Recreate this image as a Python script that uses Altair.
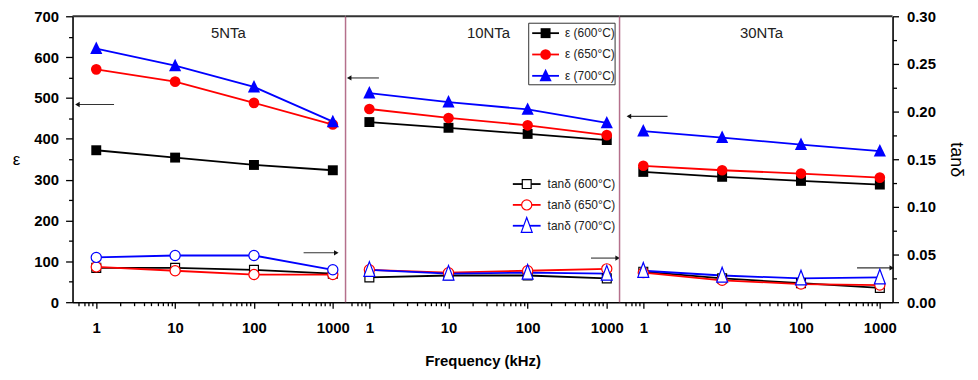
import altair as alt
import pandas as pd

# ---------------- data ----------------
freq_khz = [1, 10, 100, 1000]
panel_names = ["5NTa", "10NTa", "30NTa"]
temp_labels = ["600°C", "650°C", "700°C"]
series_colors = ["#000000", "#ff0000", "#0000ff"]

eps_5nta_600 = [372, 354, 336, 323]
eps_5nta_650 = [570, 540, 488, 435]
eps_5nta_700 = [621, 579, 527, 442]
tan_5nta_600 = [0.036, 0.036, 0.034, 0.030]
tan_5nta_650 = [0.037, 0.033, 0.029, 0.029]
tan_5nta_700 = [0.047, 0.049, 0.049, 0.034]

eps_10nta_600 = [441, 427, 412, 397]
eps_10nta_650 = [473, 451, 433, 409]
eps_10nta_700 = [512, 490, 472, 439]
tan_10nta_600 = [0.026, 0.028, 0.028, 0.025]
tan_10nta_650 = [0.034, 0.031, 0.033, 0.035]
tan_10nta_700 = [0.034, 0.030, 0.031, 0.030]

eps_30nta_600 = [319, 307, 297, 288]
eps_30nta_650 = [334, 323, 315, 305]
eps_30nta_700 = [419, 403, 386, 370]
tan_30nta_600 = [0.032, 0.025, 0.020, 0.015]
tan_30nta_650 = [0.031, 0.023, 0.019, 0.018]
tan_30nta_700 = [0.033, 0.028, 0.025, 0.026]

# annotation arrows per panel: [left arrow (to eps axis), right arrow (to tan axis)]
arrow_tip_khz = [[0.577, 1107], [0.556, 1371], [0.657, 1416]]
arrow_tail_khz = [[1.68, 426], [1.32, 631], [2.03, 514]]
arrow_eps_level = [[484, 121], [549, 108], [455, 84]]
arrow_dir = ["left", "right"]

eps_by_panel = {
    "5NTa": [eps_5nta_600, eps_5nta_650, eps_5nta_700],
    "10NTa": [eps_10nta_600, eps_10nta_650, eps_10nta_700],
    "30NTa": [eps_30nta_600, eps_30nta_650, eps_30nta_700],
}
tan_by_panel = {
    "5NTa": [tan_5nta_600, tan_5nta_650, tan_5nta_700],
    "10NTa": [tan_10nta_600, tan_10nta_650, tan_10nta_700],
    "30NTa": [tan_30nta_600, tan_30nta_650, tan_30nta_700],
}

# ---------------- styles ----------------
TRI_SOLID = "M0,-1.15L-1,0.9L1,0.9Z"
TRI_OPEN = "M0,-1.5L-1,1.2L1,1.2Z"
eps_shapes = ["square", "circle", TRI_SOLID]
eps_sizes = [100, 115, 150]
tan_shapes = {
    "5NTa": ["square", "circle", "circle"],
    "10NTa": ["square", "circle", TRI_OPEN],
    "30NTa": ["square", "circle", TRI_OPEN],
}
tan_size_of = {"square": 80, "circle": 105, TRI_OPEN: 121}

FONT = "Liberation Sans"
H = 288
WIDTHS = [275, 276, 275]
SEP_COLOR = "#b5708c"
FRAME_COLOR = "#333333"

x_scale = alt.Scale(type="log", domain=[0.5, 1450], nice=False, zero=False)
eps_scale = alt.Scale(domain=[0, 700], nice=False, zero=False)
tan_scale = alt.Scale(domain=[0, 0.30], nice=False, zero=False)

x_minor = [0.6, 0.7, 0.8, 0.9]
for dec in [1, 10, 100]:
    x_minor += [dec * k for k in range(2, 10)]
x_tick_vals = sorted(set(x_minor + freq_khz))
major_test = "indexof([1,10,100,1000], datum.value) >= 0"


def x_axis(title):
    return alt.Axis(
        values=x_tick_vals,
        labelExpr=major_test + " ? format(datum.value, 'd') : ''",
        tickSize={"condition": {"test": major_test, "value": 6}, "value": 3.5},
        labelOverlap=False,
        labelPadding=13,
        labelFontSize=15,
        title=title,
        titleFontSize=15,
        titleFontWeight="bold",
        titlePadding=18,
    )


eps_axis_left = alt.Axis(
    orient="left",
    values=list(range(0, 701, 50)),
    labelExpr="datum.value % 100 == 0 ? format(datum.value, 'd') : ''",
    tickSize={"condition": {"test": "datum.value % 100 == 0", "value": 7}, "value": 4},
    labelOverlap=False,
    labelPadding=7,
    labelFontSize=15,
    title="ε",
    titleAngle=0,
    titleAlign="right",
    titleBaseline="middle",
    titlePadding=14,
    titleFontSize=17,
    titleFontWeight="normal",
)
tan_vals = [round(0.025 * k, 3) for k in range(13)]
tan_test = "round(datum.value * 1000) % 50 == 0"
tan_axis_right = alt.Axis(
    orient="right",
    values=tan_vals,
    labelExpr=tan_test + " ? format(datum.value, '.2f') : ''",
    tickSize={"condition": {"test": tan_test, "value": 6}, "value": 4},
    labelOverlap=False,
    labelPadding=8,
    labelFontSize=15,
    title="tanδ",
    titleAngle=90,
    titlePadding=11,
    titleFontSize=18,
    titleFontWeight="normal",
)


def one_row():
    return pd.DataFrame({"k": [0]})


def make_panel(i):
    name = panel_names[i]
    W = WIDTHS[i]
    xa = x_axis("Frequency (kHz)" if i == 1 else None)
    ya_eps = eps_axis_left if i == 0 else None
    ya_tan = tan_axis_right if i == 2 else None

    eps_rows, tan_rows = [], []
    for s in range(3):
        for f, v in zip(freq_khz, eps_by_panel[name][s]):
            eps_rows.append(dict(freq=f, val=v, s=s, color=series_colors[s],
                                 shape=eps_shapes[s], size=eps_sizes[s]))
        for f, v in zip(freq_khz, tan_by_panel[name][s]):
            sh = tan_shapes[name][s]
            tan_rows.append(dict(freq=f, val=v, s=s, color=series_colors[s],
                                 shape=sh, size=tan_size_of[sh]))
    eps_df = pd.DataFrame(eps_rows)
    tan_df = pd.DataFrame(tan_rows)

    X = alt.X("freq:Q", scale=x_scale, axis=xa)
    Ye = alt.Y("val:Q", scale=eps_scale, axis=ya_eps)
    Yt = alt.Y("val:Q", scale=tan_scale, axis=ya_tan)

    eps_line = alt.Chart(eps_df).mark_line(strokeWidth=1.8).encode(
        x=X, y=Ye, detail="s:N", color=alt.Color("color:N", scale=None))
    eps_pts = alt.Chart(eps_df).mark_point(filled=True, opacity=1).encode(
        x=X, y=Ye, color=alt.Color("color:N", scale=None),
        shape=alt.Shape("shape:N", scale=None), size=alt.Size("size:Q", scale=None))

    arr_df = pd.DataFrame({
        "tip": arrow_tip_khz[i], "tail": arrow_tail_khz[i],
        "lvl": arrow_eps_level[i], "dir": arrow_dir,
    })
    arr_df["head"] = arr_df["dir"].map({"left": "triangle-left", "right": "triangle-right"})
    arrow_line = alt.Chart(arr_df).mark_rule(color="#333333", strokeWidth=1.1).encode(
        x=alt.X("tip:Q", scale=x_scale, axis=xa), x2="tail:Q",
        y=alt.Y("lvl:Q", scale=eps_scale, axis=ya_eps))
    arrow_head = alt.Chart(arr_df).mark_point(filled=True, color="#111111", size=28, opacity=1).encode(
        x=alt.X("tip:Q", scale=x_scale, axis=xa),
        y=alt.Y("lvl:Q", scale=eps_scale, axis=ya_eps),
        shape=alt.Shape("head:N", scale=None))

    eps_group = alt.layer(eps_line, eps_pts, arrow_line, arrow_head)

    tan_line = alt.Chart(tan_df).mark_line(strokeWidth=1.8).encode(
        x=X, y=Yt, detail="s:N", color=alt.Color("color:N", scale=None))
    tan_pts = alt.Chart(tan_df).mark_point(filled=True, fill="white", strokeWidth=1.2, opacity=1).encode(
        x=X, y=Yt, stroke=alt.Stroke("color:N", scale=None),
        shape=alt.Shape("shape:N", scale=None), size=alt.Size("size:Q", scale=None))
    tan_group = alt.layer(tan_line, tan_pts)

    # frame decorations and panel label
    deco = [
        alt.Chart(one_row()).mark_rule(color=FRAME_COLOR, strokeWidth=2).encode(
            x=alt.value(0), x2=alt.value(W), y=alt.value(0)),
        alt.Chart(one_row()).mark_text(fontSize=15, font=FONT, color="#222222").encode(
            x=alt.value([157, 144, 143][i]), y=alt.value(17), text=alt.value(name)),
    ]
    if i < 2:
        deco.append(alt.Chart(one_row()).mark_rule(color=SEP_COLOR, strokeWidth=1.5).encode(
            x=alt.value(W), y=alt.value(0), y2=alt.value(H)))

    if i == 1:
        # epsilon legend (boxed)
        deco.append(alt.Chart(one_row()).mark_rect(fill="white", stroke="#333333", strokeWidth=1).encode(
            x=alt.value(184.5), x2=alt.value(271.5), y=alt.value(7), y2=alt.value(69)))
        rows_e = [17, 38.5, 60]
        for s in range(3):
            yy = rows_e[s]
            deco.append(alt.Chart(one_row()).mark_rule(color=series_colors[s], strokeWidth=1.8).encode(
                x=alt.value(188), x2=alt.value(215), y=alt.value(yy)))
            deco.append(alt.Chart(one_row()).mark_point(filled=True, opacity=1, color=series_colors[s]).encode(
                x=alt.value(201.5), y=alt.value(yy), shape=alt.value(eps_shapes[s]),
                size=alt.value(eps_sizes[s])))
            deco.append(alt.Chart(one_row()).mark_text(align="left", baseline="middle", fontSize=12,
                                                       font=FONT, color="#222222").encode(
                x=alt.value(221), y=alt.value(yy), text=alt.value("ε (" + temp_labels[s] + ")")))
        # tan delta legend (no box)
        rows_t = [169, 190, 211]
        leg_shapes_t = ["square", "circle", TRI_OPEN]
        for s in range(3):
            yy = rows_t[s]
            deco.append(alt.Chart(one_row()).mark_rule(color=series_colors[s], strokeWidth=1.8).encode(
                x=alt.value(168.5), x2=alt.value(196.5), y=alt.value(yy)))
            deco.append(alt.Chart(one_row()).mark_point(filled=True, fill="white", stroke=series_colors[s],
                                                        strokeWidth=1.2, opacity=1).encode(
                x=alt.value(182.5), y=alt.value(yy), shape=alt.value(leg_shapes_t[s]),
                size=alt.value(tan_size_of[leg_shapes_t[s]])))
            deco.append(alt.Chart(one_row()).mark_text(align="left", baseline="middle", fontSize=12,
                                                       font=FONT, color="#222222").encode(
                x=alt.value(203.5), y=alt.value(yy), text=alt.value("tanδ (" + temp_labels[s] + ")")))

    return alt.layer(eps_group, tan_group, *deco).resolve_scale(y="independent").properties(
        width=W, height=H)


chart = alt.hconcat(*[make_panel(i) for i in range(3)], spacing=0, bounds="flush").properties(
    padding={"left": 4, "top": 0, "right": 5, "bottom": 5},
    background="white",
).configure_view(stroke=None).configure_axis(
    grid=False,
    labelFont=FONT,
    labelFontWeight="bold",
    labelColor="#000000",
    titleFont=FONT,
    titleColor="#000000",
    domainColor="#000000",
    domainWidth=1.6,
    tickColor="#000000",
    tickWidth=1.3,
)

chart.save("out.html", embed_options={"renderer": "svg", "actions": False})
